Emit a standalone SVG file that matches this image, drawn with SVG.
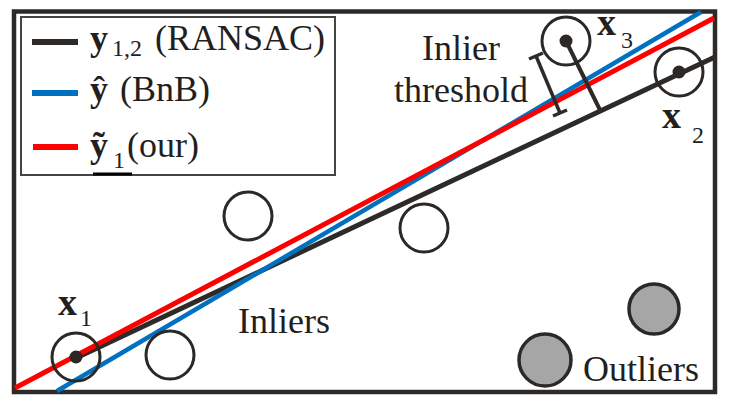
<svg xmlns="http://www.w3.org/2000/svg" width="730" height="404" viewBox="0 0 730 404">
<style>
  .t { font-family: "Liberation Serif", "Times New Roman", serif; fill: #231f20; }
  .m { font-size: 36px; }
  .b { font-weight: bold; }
  .s { font-size: 24px; }
  .circ { fill: none; stroke: #2b2826; stroke-width: 3; }
  .out { fill: #a6a6a6; stroke: #2b2826; stroke-width: 3.5; }
  .dot { fill: #2b2826; }
  .ln { fill: none; stroke-linecap: butt; }
</style>
<rect x="0" y="0" width="730" height="404" fill="#ffffff"/>
<rect id="frame" x="14" y="11.5" width="701" height="380.5" fill="none" stroke="#2e2a28" stroke-width="4.5"/>

<g id="connectors">
  <line class="ln" x1="76" y1="358" x2="715" y2="57" stroke="#2e2a28" stroke-width="5"/>
  <line class="ln" x1="57" y1="391" x2="701" y2="12" stroke="#0070c0" stroke-width="4.5"/>
  <line class="ln" x1="15" y1="388" x2="714" y2="18" stroke="#ff0000" stroke-width="5"/>
  <line class="ln" x1="566" y1="41" x2="600" y2="110" stroke="#2e2a28" stroke-width="4"/>
  <g id="threshold-bar" stroke="#2e2a28" stroke-width="3.5">
    <line x1="536" y1="56" x2="560" y2="113"/>
    <line x1="529" y1="59" x2="543" y2="53"/>
    <line x1="553" y1="116" x2="567" y2="110"/>
  </g>
</g>

<g id="legend">
  <rect x="21" y="17" width="314" height="158" fill="none" stroke="#444" stroke-width="2"/>
  <line x1="32" y1="42" x2="78" y2="42" stroke="#2e2a28" stroke-width="6"/>
  <line x1="32" y1="93" x2="78" y2="93" stroke="#0070c0" stroke-width="6"/>
  <line x1="33" y1="147" x2="78" y2="147" stroke="#ff0000" stroke-width="6"/>
  <text class="t m b" x="90" y="50">y</text>
  <text class="t s" x="112" y="56">1,2</text>
  <text class="t m" x="155" y="50">(RANSAC)</text>
  <text class="t m b" x="90" y="101">ŷ</text>
  <text class="t m" x="120" y="101">(BnB)</text>
  <text class="t m b" x="90" y="157">ỹ</text>
  <text class="t s" x="113" y="168">1</text>
  <text class="t m" x="127" y="157">(our)</text>
  <line x1="93" y1="174" x2="132" y2="174" stroke="#000" stroke-width="3"/>
</g>

<g id="x1">
  <circle class="circ" cx="76" cy="357" r="24"/>
  <circle class="dot" cx="76" cy="357" r="6.5"/>
  <text class="t b" style="font-size:38px" x="58" y="315">x</text>
  <text class="t s" x="80" y="326">1</text>
</g>
<g id="x2">
  <circle class="circ" cx="679" cy="72" r="24"/>
  <circle class="dot" cx="679" cy="72" r="6.5"/>
  <text class="t b" style="font-size:38px" x="662" y="128">x</text>
  <text class="t s" x="692" y="143">2</text>
</g>
<g id="x3">
  <circle class="circ" cx="566" cy="41" r="24"/>
  <circle class="dot" cx="566" cy="41" r="6.5"/>
  <text class="t b" style="font-size:38px" x="597" y="35">x</text>
  <text class="t s" x="621" y="48">3</text>
</g>

<g id="inlier-a"><circle class="circ" cx="248" cy="216" r="24"/></g>
<g id="inlier-b"><circle class="circ" cx="424" cy="228" r="24"/></g>
<g id="inlier-c"><circle class="circ" cx="170" cy="355" r="24"/></g>
<g id="outlier-a"><circle class="out" cx="654" cy="309" r="25"/></g>
<g id="outlier-b"><circle class="out" cx="545" cy="360" r="26"/></g>

<g id="labels">
  <text class="t m" x="461" y="60" text-anchor="middle">Inlier</text>
  <text class="t m" x="461" y="102" text-anchor="middle">threshold</text>
  <text class="t m" x="238" y="333">Inliers</text>
  <text class="t m" x="583" y="381">Outliers</text>
</g>
</svg>
